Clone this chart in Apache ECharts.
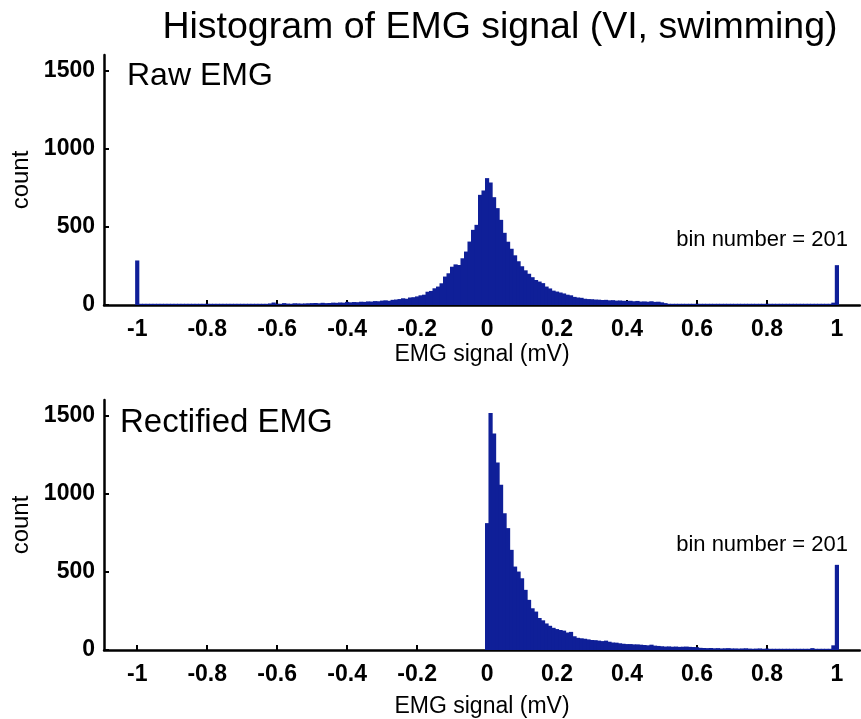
<!DOCTYPE html>
<html>
<head>
<meta charset="utf-8">
<script src="https://cdn.jsdelivr.net/npm/echarts@6/dist/echarts.min.js"></script>
<style>
html,body{margin:0;padding:0;background:#fff;}
#chart{width:861px;height:719px;}
</style>
</head>
<body>
<div id="chart"></div>
<script>
// ---- data ----
const titleText = 'Histogram of EMG signal (VI, swimming)';
const panelLabels = ['Raw EMG', 'Rectified EMG'];
const binNote = 'bin number = 201';
const binStart = -1;      // centre of first bin (mV)
const binWidth = 0.01;    // bin width (mV)
const xTicks = [-1, -0.8, -0.6, -0.4, -0.2, 0, 0.2, 0.4, 0.6, 0.8, 1];
const yTicks = [0, 500, 1000, 1500];

// raw EMG histogram counts, bins -1.00 ... 1.00
const rawCounts = [
  285,
  2,1,2,2,1,2,3,2,1,2, 2,2,1,3,2,2,1,2,2,1, 2,3,2,2,1,2,2,3,2,2, 1,2,3,2,2,3,3,
  10,16,8,
  6,12,9,8,11,10,9,10,11,12,
  13,11,14,12,13,15,14,16,15,20,
  17,19,18,21,20,23,22,25,24,28,
  30,27,33,35,38,
  43,40,48,50,55,
  62,66,85,90,107,118,139,182,203,245,
  260,256,299,342,406,481,513,705,733,
  812,
  784,690,620,545,462,405,360,318,280,248,
  222,200,178,160,150,140,118,106,92,86,
  80,74,66,62,52,48,46,40,38,37,
  35,34,32,33,30,31,28,29,27,26,
  27,24,26,22,23,21,24,20,21,17,
  12,6,
  3,2,3,2,2,3,2,1,2,3, 2,2,3,2,1,2,2,3,2,2, 1,2,2,3,2,2,1,2,3,2, 2,2,1,2,3,2,2,1,2,2, 3,2,2,1,2,2,15,
  255
];

// rectified EMG histogram counts, bins -1.00 ... 1.00
const rectCounts = [
  0,0,0,0,0,0,0,0,0,0, 0,0,0,0,0,0,0,0,0,0, 0,0,0,0,0,0,0,0,0,0, 0,0,0,0,0,0,0,0,0,0,
  0,0,0,0,0,0,0,0,0,0, 0,0,0,0,0,0,0,0,0,0, 0,0,0,0,0,0,0,0,0,0, 0,0,0,0,0,0,0,0,0,0,
  0,0,0,0,0,0,0,0,0,0, 0,0,0,0,0,0,0,0,0,0,
  812,
  1517,1385,1200,1058,876,780,641,534,502,459,
  385,321,267,246,205,190,170,155,142,134,
  128,124,112,116,88,78,75,72,68,64,
  63,60,57,60,53,48,47,43,40,38,
  38,36,36,34,32,30,34,28,26,24,
  22,23,21,22,20,21,22,20,19,18,
  14,13,12,13,11,12,10,11,12,10,
  10,9,10,11,9,8,9,10,8,9,
  6,5,6,5,4,5,6,4,5,4, 5,4,12,4,5,4,5,6,30,
  545
];

// ---- style ----
const FONT = 'Liberation Sans, Arial, Helvetica, sans-serif';
const FILL = '#0f1f98';

function toPairs(counts) {
  return counts.map(function (c, i) {
    return [+(binStart + i * binWidth).toFixed(2), c];
  });
}

function renderHist(params, api) {
  const x = api.value(0), y = api.value(1);
  if (!y) return null;
  const p0 = api.coord([x - binWidth / 2, y]);
  const p1 = api.coord([x + binWidth / 2, 0]);
  const top = Math.min(p0[1], p1[1] - 1.2);
  return {
    type: 'rect',
    shape: { x: p0[0] - 0.35, y: top, width: p1[0] - p0[0] + 0.7, height: p1[1] - top },
    style: { fill: FILL, lineWidth: 0 }
  };
}

function xAxisCfg(gi, gap) {
  return {
    type: 'value', gridIndex: gi, min: -1.095, max: 1.066,
    splitLine: { show: false },
    axisLine: { show: true, onZero: false, lineStyle: { color: '#000', width: 2.5 } },
    axisTick: { show: true, inside: true, length: 5, customValues: xTicks, lineStyle: { color: '#000', width: 2 } },
    axisLabel: { customValues: xTicks, margin: 13, color: '#000', fontFamily: FONT, fontWeight: 'bold', fontSize: 23,
      formatter: function (v) { return String(v); } },
    name: 'EMG signal (mV)', nameLocation: 'middle', nameGap: gap,
    nameTextStyle: { color: '#000', fontFamily: FONT, fontSize: 23 }
  };
}
function yAxisCfg(gi) {
  return {
    type: 'value', gridIndex: gi, min: 0, max: 1600,
    splitLine: { show: false },
    axisLine: { show: true, onZero: false, lineStyle: { color: '#000', width: 2.5 } },
    axisTick: { show: true, inside: true, length: 5, customValues: yTicks, lineStyle: { color: '#000', width: 2 } },
    axisLabel: { customValues: yTicks, margin: 9, color: '#000', fontFamily: FONT, fontWeight: 'bold', fontSize: 23,
      formatter: function (v) { return String(v); } },
    name: 'count', nameLocation: 'middle', nameGap: 60,
    nameTextStyle: { color: '#000', fontFamily: FONT, fontSize: 24 }
  };
}

const chart = echarts.init(document.getElementById('chart'), null, { renderer: 'canvas' });
chart.setOption({
  backgroundColor: '#fff',
  animation: false,
  grid: [
    { left: 104, right: 1, top: 55, height: 250, outerBoundsMode: 'none' },
    { left: 104, right: 1, top: 400, height: 250, outerBoundsMode: 'none' }
  ],
  xAxis: [xAxisCfg(0, 38), xAxisCfg(1, 45)],
  yAxis: [yAxisCfg(0), yAxisCfg(1)],
  series: [
    { type: 'custom', xAxisIndex: 0, yAxisIndex: 0, renderItem: renderHist, data: toPairs(rawCounts), encode: { x: 0, y: 1 }, z: 3 },
    { type: 'custom', xAxisIndex: 1, yAxisIndex: 1, renderItem: renderHist, data: toPairs(rectCounts), encode: { x: 0, y: 1 }, z: 3 }
  ],
  graphic: [
    { type: 'text', x: 500, y: 28, style: { text: titleText, fill: '#000', font: '37.5px ' + FONT, textAlign: 'center', textVerticalAlign: 'middle' } },
    { type: 'text', x: 127, y: 76, style: { text: panelLabels[0], fill: '#000', font: '32px ' + FONT, textVerticalAlign: 'middle' } },
    { type: 'text', x: 120, y: 423, style: { text: panelLabels[1], fill: '#000', font: '33px ' + FONT, textVerticalAlign: 'middle' } },
    { type: 'text', x: 848, y: 240, style: { text: binNote, fill: '#000', font: '22px ' + FONT, textAlign: 'right', textVerticalAlign: 'middle' } },
    { type: 'text', x: 848, y: 545, style: { text: binNote, fill: '#000', font: '22px ' + FONT, textAlign: 'right', textVerticalAlign: 'middle' } }
  ]
});
</script>
</body>
</html>
